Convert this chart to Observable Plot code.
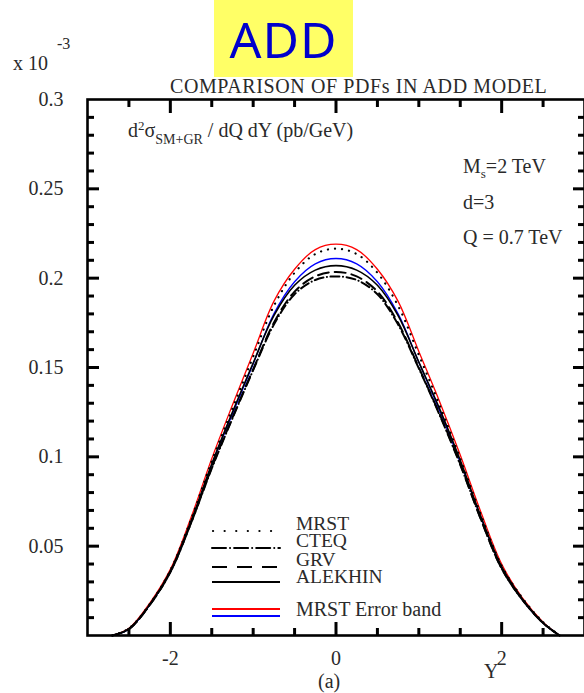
<!DOCTYPE html>
<html>
<head>
<script src="https://cdn.jsdelivr.net/npm/d3@7"></script>
<script src="https://cdn.jsdelivr.net/npm/@observablehq/plot@0.6"></script>
<style>
  .t { position: absolute; white-space: nowrap; font-size: 20px; line-height: 1; font-family: "Liberation Serif", serif; color: #2a2a2a; }
  #addbox { position: absolute; left: 214px; top: 0; width: 139px; height: 77px; background: #ffff66;
            display: flex; align-items: center; justify-content: center;
            font-family: "Noto Sans", sans-serif; font-size: 50px; color: #0000cc; letter-spacing: 1px; }
  #legend { position: absolute; left: 0; top: 0; }
</style>
</head>
<body style="margin:0">
<div id="chart"></div>
<div id="addbox">ADD</div>
<div class="t" style="left:13px; top:53px;">x 10</div>
<div class="t" style="left:57px; top:36px; font-size:16px;">-3</div>
<div class="t" style="left:170px; top:76px; font-size:20px; letter-spacing:0.6px;">COMPARISON OF PDFs IN ADD MODEL</div>
<div class="t" style="left:128px; top:119px; font-size:20px;">d<sup style="font-size:13px; vertical-align:7px;">2</sup>σ<sub style="font-size:14px; vertical-align:-7px;">SM+GR</sub> / dQ dY (pb/GeV)</div>
<div class="t" style="left:463px; top:156px;">M<sub style="font-size:13px; vertical-align:-5px;">s</sub>=2 TeV</div>
<div class="t" style="left:463px; top:192px;">d=3</div>
<div class="t" style="left:463px; top:227px;">Q = 0.7 TeV</div>
<div class="t" style="left:484px; top:661px;">Y</div>
<div class="t" style="left:318px; top:671px;">(a)</div>
<svg id="legend" width="584" height="693">
  <line x1="213" x2="280" y1="531" y2="531" stroke="black" stroke-width="2.2" stroke-dasharray="0.1,11.5" stroke-linecap="round"/>
  <line x1="212" x2="280" y1="548" y2="548" stroke="black" stroke-width="2" stroke-dasharray="14,4,0.1,4" stroke-linecap="round"/>
  <line x1="212" x2="280" y1="567" y2="567" stroke="black" stroke-width="2.2" stroke-dasharray="15,10"/>
  <line x1="212" x2="280" y1="582" y2="582" stroke="black" stroke-width="2.2"/>
  <line x1="212" x2="280" y1="609" y2="609" stroke="#ff0000" stroke-width="2.2"/>
  <line x1="212" x2="280" y1="616" y2="616" stroke="#0000ff" stroke-width="2.2"/>
  <text x="296" y="530" font-family="Liberation Serif" font-size="19.5" fill="#2a2a2a">MRST</text>
  <text x="296" y="547" font-family="Liberation Serif" font-size="19.5" fill="#2a2a2a">CTEQ</text>
  <text x="296" y="566" font-family="Liberation Serif" font-size="19.5" fill="#2a2a2a">GRV</text>
  <text x="296" y="583" font-family="Liberation Serif" font-size="19.5" fill="#2a2a2a">ALEKHIN</text>
  <text x="296" y="616" font-family="Liberation Serif" font-size="20" fill="#2a2a2a">MRST Error band</text>
</svg>
<script>
// Rapidity grid (Y)
const rapidity = [-2.7,-2.5,-2.25,-2,-1.75,-1.5,-1.25,-1,-0.75,-0.5,-0.25,0,0.25,0.5,0.75,1,1.25,1.5,1.75,2,2.25,2.5,2.7];
// d2sigma/dQdY in units of 1e-3 pb/GeV
const mrst    = [0,.004,.0175,.0365,.065,.0975,.127,.156,.1845,.203,.2135,.2165,.2135,.203,.1845,.157,.129,.099,.0675,.039,.021,.0075,0];
const cteq    = [0,.0036,.017,.0355,.063,.0935,.1215,.1485,.174,.191,.199,.201,.199,.191,.174,.1495,.1235,.0955,.065,.0375,.020,.007,0];
const grv     = [0,.0036,.017,.0355,.063,.094,.122,.149,.175,.1925,.201,.2035,.201,.1925,.175,.150,.124,.096,.065,.0375,.020,.007,0];
const alekhin = [0,.0037,.0172,.036,.064,.096,.125,.1525,.179,.196,.2045,.207,.2045,.196,.179,.153,.127,.098,.0665,.0385,.0205,.007,0];
const bandUp  = [0,.004,.018,.037,.066,.099,.129,.158,.187,.205,.216,.219,.216,.205,.187,.159,.131,.101,.069,.040,.021,.0075,0];
const bandLow = [0,.0035,.017,.0355,.0635,.0955,.124,.152,.180,.198,.208,.211,.208,.198,.180,.153,.126,.097,.066,.038,.020,.007,0];

const xMajor = [-2, 0, 2];
const xMinor = [-2.5,-1.5,-1,-0.5,0.5,1,1.5,2.5];
const yMajor = [0.05,0.1,0.15,0.2,0.25];
const yMinor = [0.01,0.02,0.03,0.04,0.06,0.07,0.08,0.09,0.11,0.12,0.13,0.14,0.16,0.17,0.18,0.19,0.21,0.22,0.23,0.24,0.26,0.27,0.28,0.29];
const yLabels = [0.05,0.1,0.15,0.2,0.25,0.3];

const series = [
  {name: "MRST", values: mrst},
  {name: "CTEQ", values: cteq},
  {name: "GRV", values: grv},
  {name: "ALEKHIN", values: alekhin},
  {name: "up", values: bandUp},
  {name: "low", values: bandLow}
];
const rows = s => rapidity.map((y, i) => ({Y: y, v: s.values[i]}));
const byName = Object.fromEntries(series.map(s => [s.name, rows(s)]));

const curve = "catmull-rom";
const blank = () => "";

const plot = Plot.plot({
  width: 584, height: 693, marginTop: 99, marginBottom: 58, marginLeft: 87, marginRight: 0,
  x: {domain: [-3, 3]}, y: {domain: [0, 0.3]},
  marks: [
    Plot.line(byName.up, {x: "Y", y: "v", stroke: "#ff0000", strokeWidth: 1.3, curve}),
    Plot.line(byName.low, {x: "Y", y: "v", stroke: "#0000ff", strokeWidth: 1.3, curve}),
    Plot.line(byName.MRST, {x: "Y", y: "v", stroke: "black", strokeWidth: 2.2, strokeDasharray: "0.1,7", strokeLinecap: "round", curve}),
    Plot.line(byName.CTEQ, {x: "Y", y: "v", stroke: "black", strokeWidth: 2, strokeDasharray: "9,3.5,0.1,3.5", strokeLinecap: "round", curve}),
    Plot.line(byName.GRV, {x: "Y", y: "v", stroke: "black", strokeWidth: 2, strokeDasharray: "11,6", curve}),
    Plot.line(byName.ALEKHIN, {x: "Y", y: "v", stroke: "black", strokeWidth: 1.6, curve}),
    // inward ticks: axis tick marks shifted back inside the frame
    Plot.axisX({ticks: xMajor, anchor: "bottom", tickSize: 13, dy: -13, tickFormat: blank, label: null, stroke: "black", strokeWidth: 3}),
    Plot.axisX({ticks: xMinor, anchor: "bottom", tickSize: 7, dy: -7, tickFormat: blank, label: null, stroke: "black", strokeWidth: 3}),
    Plot.axisX({ticks: xMajor, anchor: "top", tickSize: 13, dy: 13, tickFormat: blank, label: null, stroke: "black", strokeWidth: 3}),
    Plot.axisX({ticks: xMinor, anchor: "top", tickSize: 7, dy: 7, tickFormat: blank, label: null, stroke: "black", strokeWidth: 3}),
    Plot.axisY({ticks: yMajor, anchor: "left", tickSize: 12, dx: 12, tickFormat: blank, label: null, stroke: "black", strokeWidth: 3}),
    Plot.axisY({ticks: yMinor, anchor: "left", tickSize: 7, dx: 7, tickFormat: blank, label: null, stroke: "black", strokeWidth: 3}),
    Plot.axisY({ticks: yMajor, anchor: "right", tickSize: 12, dx: -12, tickFormat: blank, label: null, stroke: "black", strokeWidth: 3}),
    Plot.axisY({ticks: yMinor, anchor: "right", tickSize: 7, dx: -7, tickFormat: blank, label: null, stroke: "black", strokeWidth: 3}),
    // tick labels
    Plot.axisX({ticks: xMajor, anchor: "bottom", tickSize: 0, tickPadding: 15, tickFormat: d => String(d), label: null, fontSize: 20, fontFamily: "Liberation Serif", fill: "#2a2a2a"}),
    Plot.axisY({ticks: yLabels, anchor: "left", tickSize: 0, tickPadding: 24, tickFormat: d => String(d), label: null, fontSize: 20, fontFamily: "Liberation Serif", fill: "#2a2a2a"}),
    Plot.frame({stroke: "black", strokeWidth: 2.6})
  ]
});
document.getElementById("chart").appendChild(plot);
</script>
</body>
</html>
